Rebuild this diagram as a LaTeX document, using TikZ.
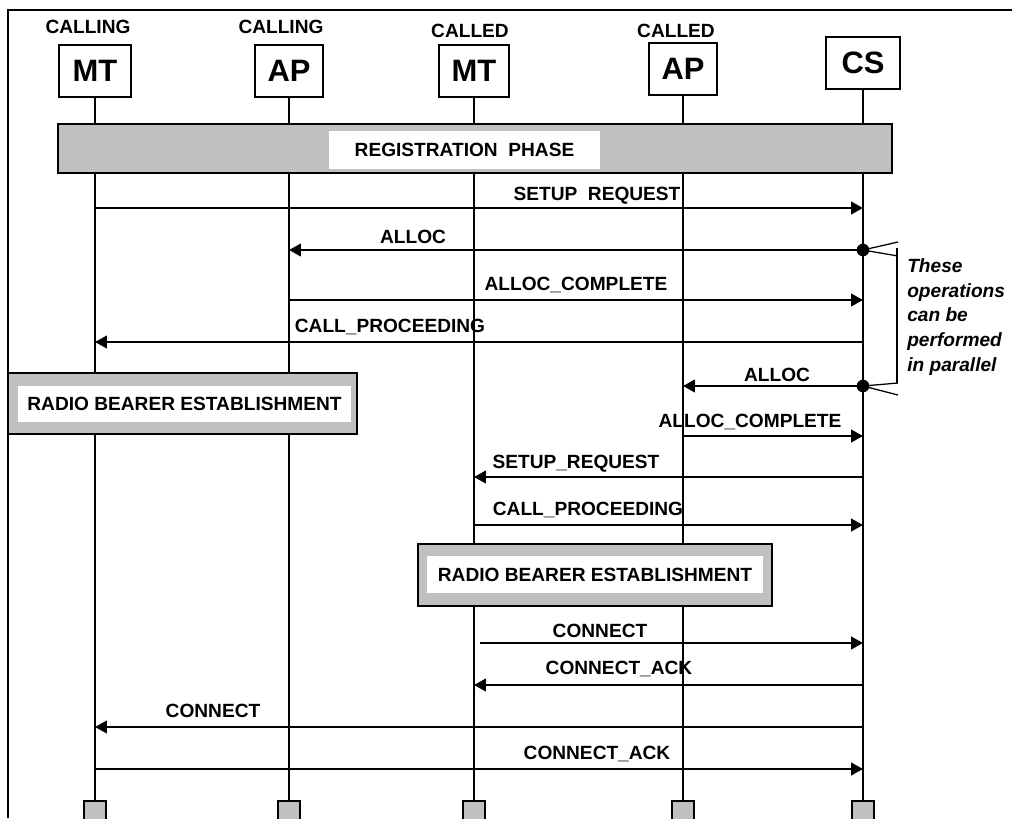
\documentclass[tikz,border=0pt]{standalone}
\usepackage{fontspec}
\setmainfont{Liberation Sans}
\usetikzlibrary{arrows.meta, positioning}
\definecolor{bargray}{RGB}{192,192,192}
\tikzset{
  head/.style={rectangle, draw=black, fill=white, line width=1.4pt,
    minimum width=50pt, minimum height=37pt, inner sep=0pt,
    font=\fontsize{22}{24}\selectfont\bfseries},
  role/.style={inner sep=0pt, font=\fontsize{13.6}{16}\selectfont\bfseries},
  lifeend/.style={rectangle, draw=black, fill=bargray, line width=1.2pt,
    minimum width=15.6pt, minimum height=15.6pt, inner sep=0pt},
  life/.style={line width=1.3pt},
  bar/.style={rectangle, draw=black, fill=bargray, line width=1.4pt, inner sep=0pt},
  bartext/.style={rectangle, fill=white, inner sep=0pt,
    font=\fontsize{13.6}{16}\selectfont\bfseries},
  msg/.style={-{Triangle[length=8.5pt, width=9pt]}, line width=1.5pt},
  lbl/.style={inner sep=0pt, font=\fontsize{13.6}{16}\selectfont\bfseries},
  dot/.style={circle, fill=black, minimum size=9pt, inner sep=0pt},
  brace/.style={line width=0.9pt},
  note/.style={inner sep=0pt, align=left,
    font=\fontsize{13.6}{17.6}\selectfont\bfseries\itshape}
}

\begin{document}
\begin{tikzpicture}[x=0.025cm, y=-0.025cm]
  \useasboundingbox (0,0) rectangle (1012,818);
  \draw[line width=1.4pt] (8,818) -- (8,10) -- (1012,10);

  % entities
  \node[head, minimum width=51pt] (cmt) at (95,71) {MT};
  \node[head, minimum width=48pt] (cap) at (289,71) {AP};
  \node[head] (dmt) at (474,71) {MT};
  \node[head, minimum width=48pt] (dap) at (683,69) {AP};
  \node[head, minimum width=52pt] (cs) at (863,63) {CS};
  \node[role] (cmtrole) at (88,27) {CALLING};
  \node[role] (caprole) at (281,27) {CALLING};
  \node[role] (dmtrole) at (470,31) {CALLED};
  \node[role] (daprole) at (676,31) {CALLED};

  \node[lifeend] (cmtend) at (95,812) {};
  \node[lifeend] (capend) at (289,812) {};
  \node[lifeend] (dmtend) at (474,812) {};
  \node[lifeend] (dapend) at (683,812) {};
  \node[lifeend] (csend) at (863,812) {};
  \foreach \e in {cmt, cap, dmt, dap, cs}
    \draw[life] (\e) -- (\e end);

  % phases
  \node[bar, minimum width=593pt, minimum height=35pt] (reg) at (475,148.5) {};
  \node[bartext, minimum width=193pt, minimum height=27pt] (regtxt) at (464.5,150) {REGISTRATION\ \ PHASE};
  \node[bar, minimum width=248pt, minimum height=43.4pt] (rbe1) at (182.5,403.5) {};
  \node[bartext, minimum width=237pt, minimum height=25.6pt] (rbe1txt) at (184.5,404) {RADIO BEARER ESTABLISHMENT};
  \node[bar, minimum width=252pt, minimum height=44pt] (rbe2) at (595,575) {};
  \node[bartext, minimum width=239pt, minimum height=26.3pt] (rbe2txt) at (595,574.5) {RADIO BEARER ESTABLISHMENT};

  % messages
  \draw[msg] (cmt |- 0,208) -- (cs |- 0,208);
  \node[lbl] (m1) at (597,196) {SETUP\ \ REQUEST};
  \node[dot] (d1) at (cs |- 0,250) {};
  \draw[msg] (d1.center) -- (cap |- 0,250);
  \node[lbl] (m2) at (413,237) {ALLOC};
  \draw[msg] (cap |- 0,300) -- (cs |- 0,300);
  \node[lbl] (m3) at (576,285) {ALLOC\_COMPLETE};
  \draw[msg] (cs |- 0,342) -- (cmt |- 0,342);
  \node[lbl] (m4) at (390,327) {CALL\_PROCEEDING};
  \node[dot] (d2) at (cs |- 0,386) {};
  \draw[msg] (d2.center) -- (dap |- 0,386);
  \node[lbl] (m5) at (777,375) {ALLOC};
  \draw[msg] (dap |- 0,436) -- (cs |- 0,436);
  \node[lbl] (m6) at (750,422) {ALLOC\_COMPLETE};
  \draw[msg] (cs |- 0,477) -- (dmt |- 0,477);
  \node[lbl] (m7) at (576,464) {SETUP\_REQUEST};
  \draw[msg] (dmt |- 0,525) -- (cs |- 0,525);
  \node[lbl] (m8) at (588,510) {CALL\_PROCEEDING};
  \draw[msg] ([xshift=4pt]dmt |- 0,643) -- (cs |- 0,643);
  \node[lbl] (m9) at (600,631) {CONNECT};
  \draw[msg] (cs |- 0,685) -- (dmt |- 0,685);
  \node[lbl] (m10) at (619,669) {CONNECT\_ACK};
  \draw[msg] (cs |- 0,727) -- (cmt |- 0,727);
  \node[lbl] (m11) at (213,711) {CONNECT};
  \draw[msg] (cmt |- 0,769) -- (cs |- 0,769);
  \node[lbl] (m12) at (597,754) {CONNECT\_ACK};

  % parallel note
  \draw[brace] (d1.center) -- (898,242);
  \draw[brace] (d1.center) -- (898,256);
  \draw[brace] (897,248) -- (897,383);
  \draw[brace] (d2.center) -- (898,383);
  \draw[brace] (d2.center) -- (898,395);
  \node[note, anchor=west] (par) at (907,317) {These\\operations\\can be\\performed\\in parallel};
\end{tikzpicture}
\end{document}
